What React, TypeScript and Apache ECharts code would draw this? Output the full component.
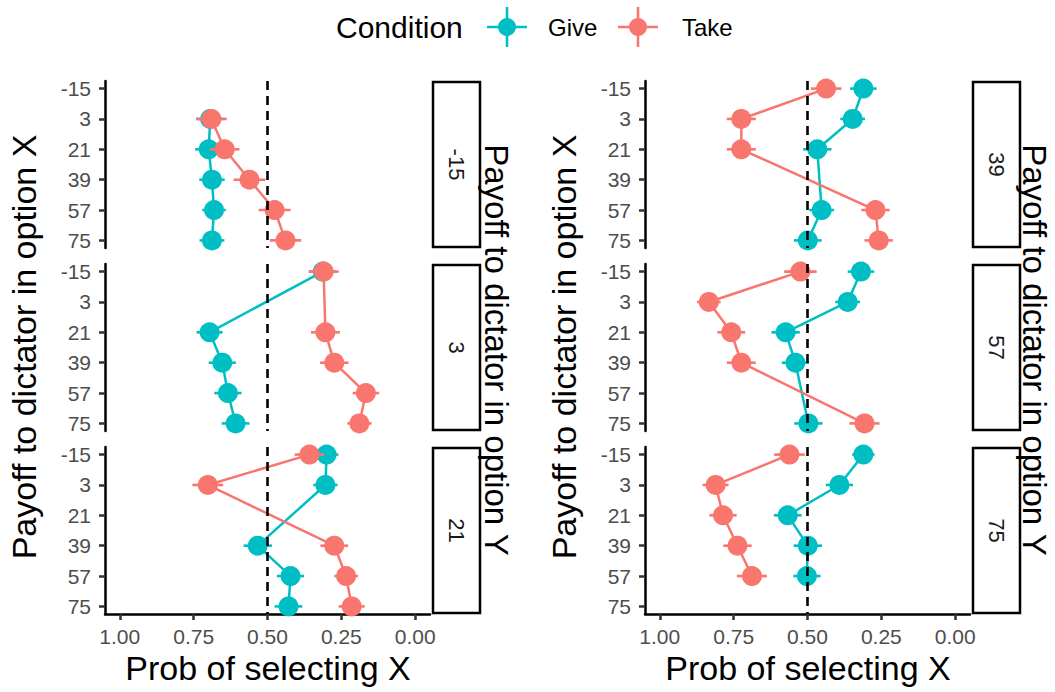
import React, { useEffect, useRef } from "react";
import * as echarts from "echarts";

const payoffs = [-15, 3, 21, 39, 57, 75];
const facetLabels = ["-15", "3", "21", "39", "57", "75"];
const xTicks = [0, 0.25, 0.5, 0.75, 1];
const conditions = ["Give", "Take"];
const colors = ["#00BFC4", "#F8766D"];

const giveProb = [
  [null, 0.694, 0.699, 0.688, 0.681, 0.688],
  [0.313, null, 0.696, 0.653, 0.634, 0.608],
  [0.3, 0.304, null, 0.533, 0.422, 0.429],
  [0.311, 0.347, 0.467, null, 0.452, 0.499],
  [0.319, 0.364, 0.574, 0.541, null, 0.497],
  [0.311, 0.392, 0.567, 0.499, 0.502, null],
];
const giveErr = [
  [null, 0.045, 0.046, 0.043, 0.04, 0.042],
  [0.045, null, 0.044, 0.046, 0.046, 0.047],
  [0.04, 0.041, null, 0.048, 0.046, 0.047],
  [0.045, 0.042, 0.048, null, 0.042, 0.047],
  [0.045, 0.042, 0.048, 0.046, null, 0.048],
  [0.038, 0.046, 0.047, 0.048, 0.046, null],
];
const takeProb = [
  [null, 0.69, 0.645, 0.561, 0.476, 0.439],
  [0.31, null, 0.304, 0.274, 0.167, 0.189],
  [0.358, 0.702, null, 0.274, 0.234, 0.215],
  [0.437, 0.724, 0.724, null, 0.27, 0.259],
  [0.524, 0.834, 0.758, 0.724, null, 0.307],
  [0.561, 0.811, 0.786, 0.737, 0.688, null],
];
const takeErr = [
  [null, 0.052, 0.05, 0.054, 0.054, 0.053],
  [0.051, null, 0.049, 0.048, 0.045, 0.041],
  [0.05, 0.052, null, 0.047, 0.04, 0.044],
  [0.052, 0.049, 0.049, null, 0.048, 0.048],
  [0.055, 0.04, 0.047, 0.049, null, 0.051],
  [0.052, 0.044, 0.046, 0.048, 0.051, null],
];

const FONT = "Liberation Sans, Arial, Helvetica, sans-serif";
const colLeft = [105, 645];
const panelW = 325;
const rowTop = [81, 264, 447];
const panelH = 167;

export default function App() {
  const ref = useRef<HTMLDivElement>(null);
  useEffect(() => {
    if (!ref.current) return;
    const chart = echarts.init(ref.current, null, { renderer: "svg" });
    const grids: any[] = [];
    const xAxes: any[] = [];
    const yAxes: any[] = [];
    const series: any[] = [];
    const graphics: any[] = [];
    const probs = [giveProb, takeProb];
    const errs = [giveErr, takeErr];

    for (let i = 0; i < 6; i++) {
      const col = Math.floor(i / 3);
      const row = i % 3;
      const left = colLeft[col];
      const top = rowTop[row];
      const isBottom = row === 2;
      grids.push({ left, top, width: panelW, height: panelH, containLabel: false });
      xAxes.push({
        gridIndex: i,
        type: "value",
        inverse: true,
        min: -0.05,
        max: 1.05,
        splitLine: { show: false },
        axisLine: { show: isBottom, onZero: false, lineStyle: { color: "#000", width: 2.5 } },
        axisTick: { show: isBottom, length: 6, lineStyle: { color: "#333", width: 2.5 }, customValues: xTicks },
        axisLabel: {
          show: isBottom,
          customValues: xTicks,
          formatter: (v: number) => v.toFixed(2),
          fontSize: 21,
          color: "#4D4D4D",
          fontFamily: FONT,
          margin: 12,
        },
      });
      yAxes.push({
        gridIndex: i,
        type: "value",
        inverse: true,
        min: -19.5,
        max: 79.5,
        splitLine: { show: false },
        axisLine: { show: true, onZero: false, lineStyle: { color: "#000", width: 2.5 } },
        axisTick: { show: true, length: 6, lineStyle: { color: "#333", width: 2.5 }, customValues: payoffs },
        axisLabel: {
          customValues: payoffs,
          fontSize: 21,
          color: "#4D4D4D",
          fontFamily: FONT,
          margin: 14,
        },
      });

      // connecting lines
      for (let c = 0; c < 2; c++) {
        const pts: any[] = [];
        payoffs.forEach((y, k) => {
          const p = probs[c][i][k];
          if (p !== null) pts.push([p, y]);
        });
        series.push({
          type: "line",
          name: conditions[c],
          xAxisIndex: i,
          yAxisIndex: i,
          data: pts,
          showSymbol: false,
          symbol: "none",
          lineStyle: { color: colors[c], width: 2.5 },
          z: 1,
          silent: true,
        });
      }
      // points with error bars
      for (let c = 0; c < 2; c++) {
        const pts: any[] = [];
        payoffs.forEach((y, k) => {
          const p = probs[c][i][k];
          if (p !== null) pts.push([p, y, errs[c][i][k]]);
        });
        const color = colors[c];
        series.push({
          type: "custom",
          name: conditions[c],
          xAxisIndex: i,
          yAxisIndex: i,
          data: pts,
          encode: { x: 0, y: 1 },
          z: 2,
          renderItem: (params: any, api: any) => {
            const p = api.value(0);
            const y = api.value(1);
            const e = api.value(2);
            const a = api.coord([p - e, y]);
            const b = api.coord([p + e, y]);
            const m = api.coord([p, y]);
            return {
              type: "group",
              children: [
                { type: "line", shape: { x1: a[0], y1: a[1], x2: b[0], y2: b[1] }, style: { stroke: color, lineWidth: 2.6 } },
                { type: "circle", shape: { cx: m[0], cy: m[1], r: 10 }, style: { fill: color } },
              ],
            };
          },
        });
      }
      // dashed reference line at 0.5
      series.push({
        type: "custom",
        xAxisIndex: i,
        yAxisIndex: i,
        data: [[0.5]],
        encode: { x: 0 },
        z: 3,
        silent: true,
        renderItem: (params: any, api: any) => {
          const cs = params.coordSys;
          const m = api.coord([api.value(0), 30]);
          return {
            type: "line",
            shape: { x1: m[0], y1: cs.y, x2: m[0], y2: cs.y + cs.height },
            style: { stroke: "#000", lineWidth: 2.6, lineDash: [9, 6] },
          };
        },
      });

      // strip
      const sx = left + panelW + 3;
      graphics.push({
        type: "rect",
        shape: { x: sx, y: top + 1, width: 47, height: panelH - 2 },
        style: { fill: "#fff", stroke: "#000", lineWidth: 2.5 },
      });
      graphics.push({
        type: "text",
        x: sx + 23.5,
        y: top + panelH / 2,
        rotation: -Math.PI / 2,
        style: { text: facetLabels[i], fontSize: 22, fontFamily: FONT, fill: "#1A1A1A", align: "center", verticalAlign: "middle" },
      });
    }

    // axis titles
    const yRightX = [496, 1034];
    for (let col = 0; col < 2; col++) {
      const left = colLeft[col];
      graphics.push({
        type: "text",
        x: left - 81,
        y: 347,
        rotation: Math.PI / 2,
        style: { text: "Payoff to dictator in option X", fontSize: 34, fontFamily: FONT, fill: "#000", align: "center", verticalAlign: "middle" },
      });
      graphics.push({
        type: "text",
        x: yRightX[col],
        y: 350,
        rotation: -Math.PI / 2,
        style: { text: "Payoff to dictator in option Y", fontSize: 33, fontFamily: FONT, fill: "#000", align: "center", verticalAlign: "middle" },
      });
      graphics.push({
        type: "text",
        x: left + 163,
        y: 668,
        style: { text: "Prob of selecting X", fontSize: 34, fontFamily: FONT, fill: "#000", align: "center", verticalAlign: "middle" },
      });
    }

    // legend
    graphics.push({
      type: "text",
      x: 336,
      y: 27,
      style: { text: "Condition", fontSize: 30, fontFamily: FONT, fill: "#000", align: "left", verticalAlign: "middle" },
    });
    const keyX = [507, 638];
    const textX = [548, 682];
    for (let c = 0; c < 2; c++) {
      graphics.push({
        type: "group",
        x: keyX[c],
        y: 27,
        children: [
          { type: "line", shape: { x1: -20, y1: 0, x2: 20, y2: 0 }, style: { stroke: colors[c], lineWidth: 2.6 } },
          { type: "line", shape: { x1: 0, y1: -20, x2: 0, y2: 20 }, style: { stroke: colors[c], lineWidth: 2.6 } },
          { type: "circle", shape: { cx: 0, cy: 0, r: 9 }, style: { fill: colors[c] } },
        ],
      });
      graphics.push({
        type: "text",
        x: textX[c],
        y: 27,
        style: { text: conditions[c], fontSize: 24, fontFamily: FONT, fill: "#000", align: "left", verticalAlign: "middle" },
      });
    }

    chart.setOption({
      animation: false,
      backgroundColor: "#fff",
      textStyle: { fontFamily: FONT },
      grid: grids,
      xAxis: xAxes,
      yAxis: yAxes,
      series,
      graphic: graphics,
    });
    return () => chart.dispose();
  }, []);
  return (
    <div
      ref={ref}
      style={{ position: "fixed", left: 0, top: 0, width: 1055, height: 692, background: "#fff" }}
    />
  );
}
